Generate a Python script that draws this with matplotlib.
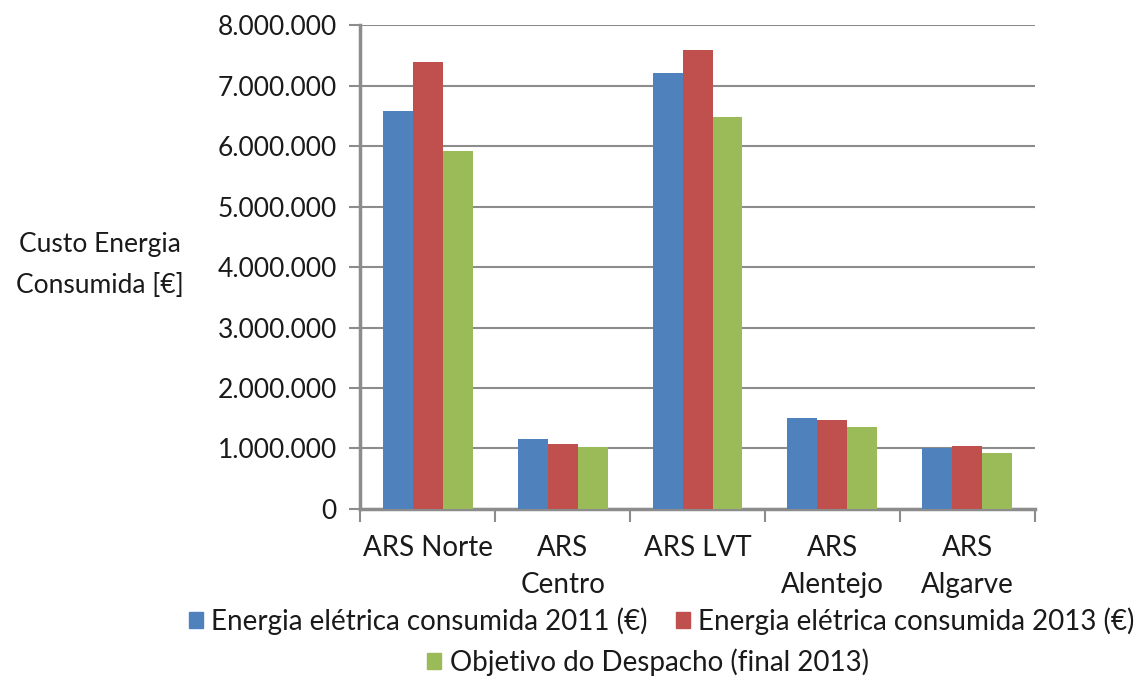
import matplotlib.pyplot as plt
import numpy as np
from matplotlib.patches import Patch
from matplotlib.ticker import FuncFormatter, FixedLocator

plt.rcParams['font.family'] = ['Lato', 'DejaVu Sans']
plt.rcParams['text.color'] = '#1a1a1a'

regioes = ['ARS Norte', 'ARS\nCentro', 'ARS LVT', 'ARS\nAlentejo', 'ARS\nAlgarve']
consumo_2011 = [6580000, 1150000, 7210000, 1500000, 1010000]
consumo_2013 = [7400000, 1070000, 7590000, 1470000, 1040000]
objetivo_2013 = [5920000, 1020000, 6480000, 1360000, 920000]
series_nomes = ['Energia elétrica consumida 2011 (€)',
                'Energia elétrica consumida 2013 (€)',
                'Objetivo do Despacho (final 2013)']
cores = ['#4F81BD', '#C0504D', '#9BBB59']

fig = plt.figure(figsize=(11.37, 6.84), dpi=100)
ax = fig.add_axes([0.317, 0.256, 0.593, 0.707])

x = np.arange(len(regioes))
largura = 0.222
for i, (valores, cor) in enumerate(zip([consumo_2011, consumo_2013, objetivo_2013], cores)):
    ax.bar(x + (i - 1) * largura, valores, width=largura, color=cor, zorder=3)

ax.set_xlim(-0.5, len(regioes) - 0.5)
ax.set_ylim(0, 8000000)
ax.set_yticks(np.arange(0, 8000001, 1000000))
ax.yaxis.set_major_formatter(FuncFormatter(lambda v, p: f'{int(v):,}'.replace(',', '.')))
ax.grid(axis='y', color='#8c8c8c', linewidth=1.5, zorder=0)

ax.set_xticks(x)
ax.set_xticklabels(regioes, fontsize=20, linespacing=1.5)
ax.xaxis.set_minor_locator(FixedLocator(np.arange(-0.5, len(regioes), 1)))
ax.tick_params(axis='x', which='major', length=0, pad=19, labelcolor='#1a1a1a')
ax.tick_params(axis='x', which='minor', length=9, width=1.5, color='#8c8c8c')
ax.tick_params(axis='y', labelsize=19, length=8, width=1.5, color='#8c8c8c', pad=9,
               labelcolor='#1a1a1a')

for lado in ['top', 'right']:
    ax.spines[lado].set_visible(False)
for lado in ['left', 'bottom']:
    ax.spines[lado].set_color('#8c8c8c')
    ax.spines[lado].set_linewidth(2.5)

fig.text(0.088, 0.612, 'Custo Energia\nConsumida [€]', fontsize=19,
         ha='center', va='center', linespacing=1.8)

alcas = [Patch(color=c) for c in cores]
fig.legend(alcas[:2], series_nomes[:2], loc='center', ncol=2,
           bbox_to_anchor=(0.582, 0.092), frameon=False, fontsize=20,
           handlelength=0.5, handleheight=0.5, handletextpad=0.3,
           columnspacing=1.0)
fig.legend(alcas[2:], series_nomes[2:], loc='center',
           bbox_to_anchor=(0.57, 0.032), frameon=False, fontsize=20,
           handlelength=0.5, handleheight=0.5, handletextpad=0.3)

fig.savefig('out.png', dpi=100)
